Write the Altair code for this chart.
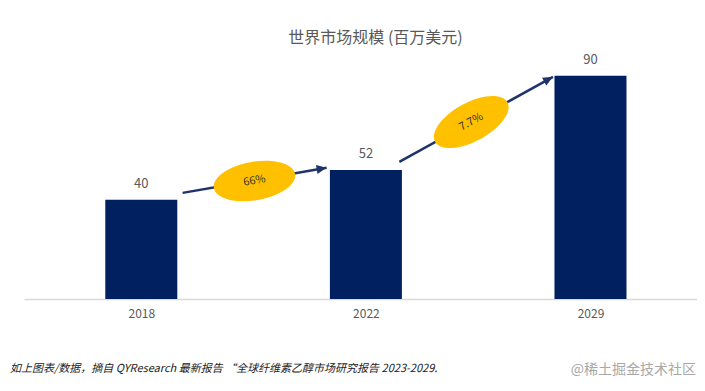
import math
import altair as alt
import pandas as pd

# ---- data ----
years = ["2018", "2022", "2029"]
values = [40, 52, 90]

growth_labels = ["66%", "7.7%"]
arrow_x0 = [0.184, 1.149]
arrow_y0 = [42.8, 55.3]
arrow_x1 = [0.825, 1.833]
arrow_y1 = [52.9, 89.6]
ellipse_x = [0.504, 1.469]
ellipse_y = [47.6, 71.4]

title_text = "世界市场规模 (百万美元)"
footnote_text = "如上图表/数据，摘自 QYResearch 最新报告 “全球纤维素乙醇市场研究报告 2023-2029."
watermark_text = "@稀土掘金技术社区"

# ---- layout ----
W, H = 673, 239
x_dom = [-0.5, 2.452]
y_dom = [0, 96.4]
px_x = W / (x_dom[1] - x_dom[0])
px_y = H / (y_dom[1] - y_dom[0])

bar_color = "#002060"
arrow_color = "#1f3468"
ell_color = "#ffc000"
font = "Noto Sans CJK SC"

bars = pd.DataFrame({"i": list(range(len(years))), "year": years, "value": values})

def ang(x0, y0, x1, y1):
    a = -math.degrees(math.atan2((y1 - y0) * px_y, (x1 - x0) * px_x))
    return a % 360

arrows = pd.DataFrame({
    "x0": arrow_x0, "y0": arrow_y0, "x1": arrow_x1, "y1": arrow_y1,
    "ex": ellipse_x, "ey": ellipse_y, "label": growth_labels,
})
arrows["angle"] = [ang(a, b, c, d) for a, b, c, d in zip(arrow_x0, arrow_y0, arrow_x1, arrow_y1)]

xs = alt.Scale(domain=x_dom, nice=False, zero=False)
ys = alt.Scale(domain=y_dom, nice=False)

label_expr = "[" + ",".join("'%s'" % y for y in years) + "][datum.value]"

bar_layer = alt.Chart(bars).mark_bar(size=72, color=bar_color).encode(
    x=alt.X("i:Q", scale=xs, axis=alt.Axis(
        values=list(range(len(years))), labelExpr=label_expr, title=None,
        grid=False, ticks=False, domainColor="#d9d9d9", domainWidth=1.5,
        labelColor="#595959", labelFont=font, labelFontSize=12, labelPadding=9)),
    y=alt.Y("value:Q", scale=ys, axis=None),
)

val_layer = alt.Chart(bars).mark_text(
    baseline="bottom", dy=-9, fontSize=13, color="#595959", font=font
).encode(x=alt.X("i:Q", scale=xs), y=alt.Y("value:Q", scale=ys), text="value:Q")

line_layer = alt.Chart(arrows).mark_rule(color=arrow_color, strokeWidth=2.5).encode(
    x=alt.X("x0:Q", scale=xs), y=alt.Y("y0:Q", scale=ys), x2="x1:Q", y2="y1:Q"
)

head_layer = alt.Chart(arrows).mark_point(
    shape="M0,0L-2,-0.9L-2,0.9Z", filled=True, opacity=1, color=arrow_color, size=100
).encode(x=alt.X("x1:Q", scale=xs), y=alt.Y("y1:Q", scale=ys), angle=alt.Angle("angle:Q", scale=None))

ell_layer = alt.Chart(arrows).mark_point(
    shape="M-1,0A1,0.47,0,1,1,1,0A1,0.47,0,1,1,-1,0Z", filled=True, opacity=1,
    color=ell_color, size=6800
).encode(x=alt.X("ex:Q", scale=xs), y=alt.Y("ey:Q", scale=ys), angle=alt.Angle("angle:Q", scale=None))

ell_text = alt.Chart(arrows).mark_text(
    fontSize=11, color="#333333", font=font, baseline="middle", align="center"
).encode(x=alt.X("ex:Q", scale=xs), y=alt.Y("ey:Q", scale=ys), text="label:N",
         angle=alt.Angle("angle:Q", scale=None))

foot = alt.Chart(pd.DataFrame({"t": [footnote_text]})).mark_text(
    align="left", baseline="middle", fontSize=11, fontStyle="italic", color="#222222", font=font
).encode(x=alt.value(-14), y=alt.value(H + 70), text="t:N")

wm = alt.Chart(pd.DataFrame({"t": [watermark_text]})).mark_text(
    align="right", baseline="middle", fontSize=14, color="#a8a8a8", font=font
).encode(x=alt.value(672), y=alt.value(H + 71), text="t:N")

chart = alt.layer(bar_layer, val_layer, line_layer, head_layer, ell_layer, ell_text, foot, wm).properties(
    width=W, height=H,
    title=alt.TitleParams(title_text, fontSize=16, color="#595959", font=font,
                          fontWeight="normal", anchor="middle", offset=8, dx=15),
    autosize=alt.AutoSizeParams(type="none"),
    padding={"left": 16, "top": 52, "right": 0, "bottom": 84},
).configure_view(stroke=None)

chart.save("out.html", embed_options={"renderer": "svg", "actions": False})
